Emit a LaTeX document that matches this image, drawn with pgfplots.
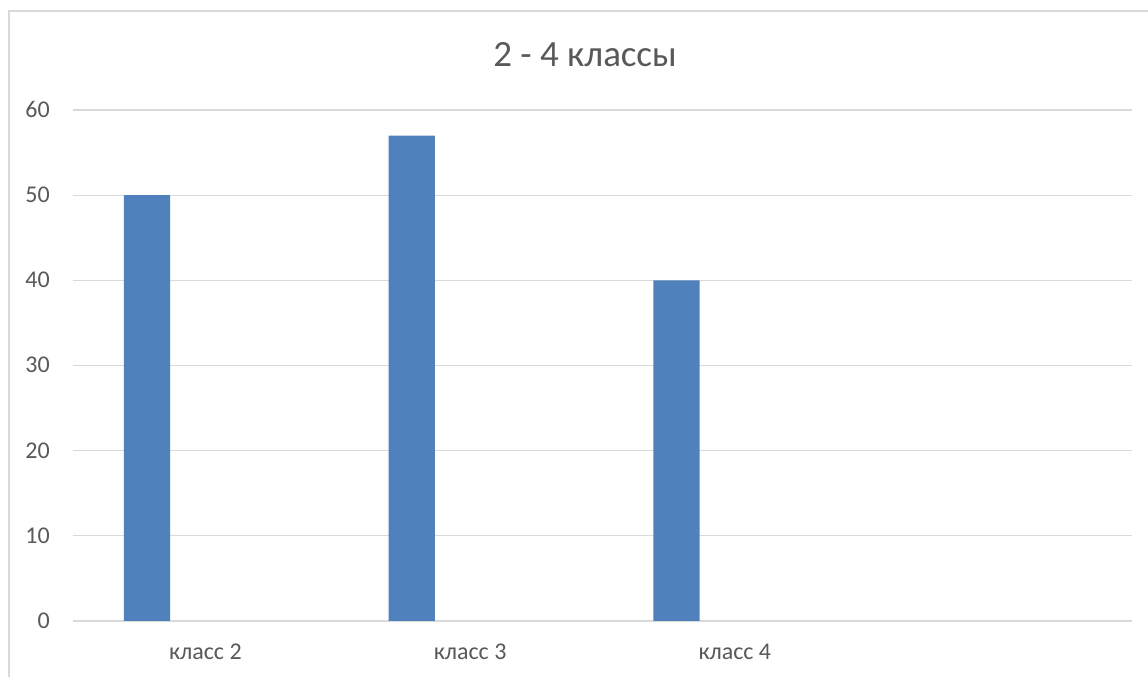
\documentclass[border=0pt]{standalone}
\usepackage{pgfplots}
\pgfplotsset{compat=1.18}
\usepackage{fontspec}
\setmainfont{Carlito}
\definecolor{barblue}{HTML}{4F81BD}
\definecolor{txt}{HTML}{595959}
\definecolor{grid}{HTML}{D9D9D9}
\begin{document}
\begin{tikzpicture}
\useasboundingbox (0,0) rectangle (1148pt,677pt);
\fill[white] (0,0) rectangle (1148pt,677pt);
\draw[grid, line width=1.2pt] (9pt,0) -- (9pt,666pt) -- (1148pt,666pt);
\begin{axis}[
  at={(73pt,56pt)}, anchor=south west,
  scale only axis, width=1059pt, height=511pt,
  xmin=-0.5, xmax=3.5, ymin=0, ymax=60,
  ytick={0,10,...,60},
  xtick={0,1,2},
  xticklabels={класс 2, класс 3, класс 4},
  axis line style={draw=none},
  major tick length=0pt,
  ymajorgrids,
  grid style={color=grid, line width=1.3pt},
  /pgf/number format/assume math mode=true,
  tick label style={font=\fontsize{24}{28}\selectfont, text=txt, inner sep=0pt},
  xticklabel style={anchor=base, yshift=-39pt},
  yticklabel style={anchor=base east, xshift=-23pt, yshift=-7.5pt},
  clip=false,
]
\addplot[ybar, bar width=0.175, bar shift=0pt, fill=barblue, draw=none]
  coordinates {(-0.2206,50) (0.7794,57) (1.7794,40)};
\end{axis}
\node[anchor=base, text=txt, inner sep=0pt, font=\fontsize{37}{44}\selectfont] at (585pt,610.3pt) {2 - 4 классы};
\end{tikzpicture}
\end{document}
